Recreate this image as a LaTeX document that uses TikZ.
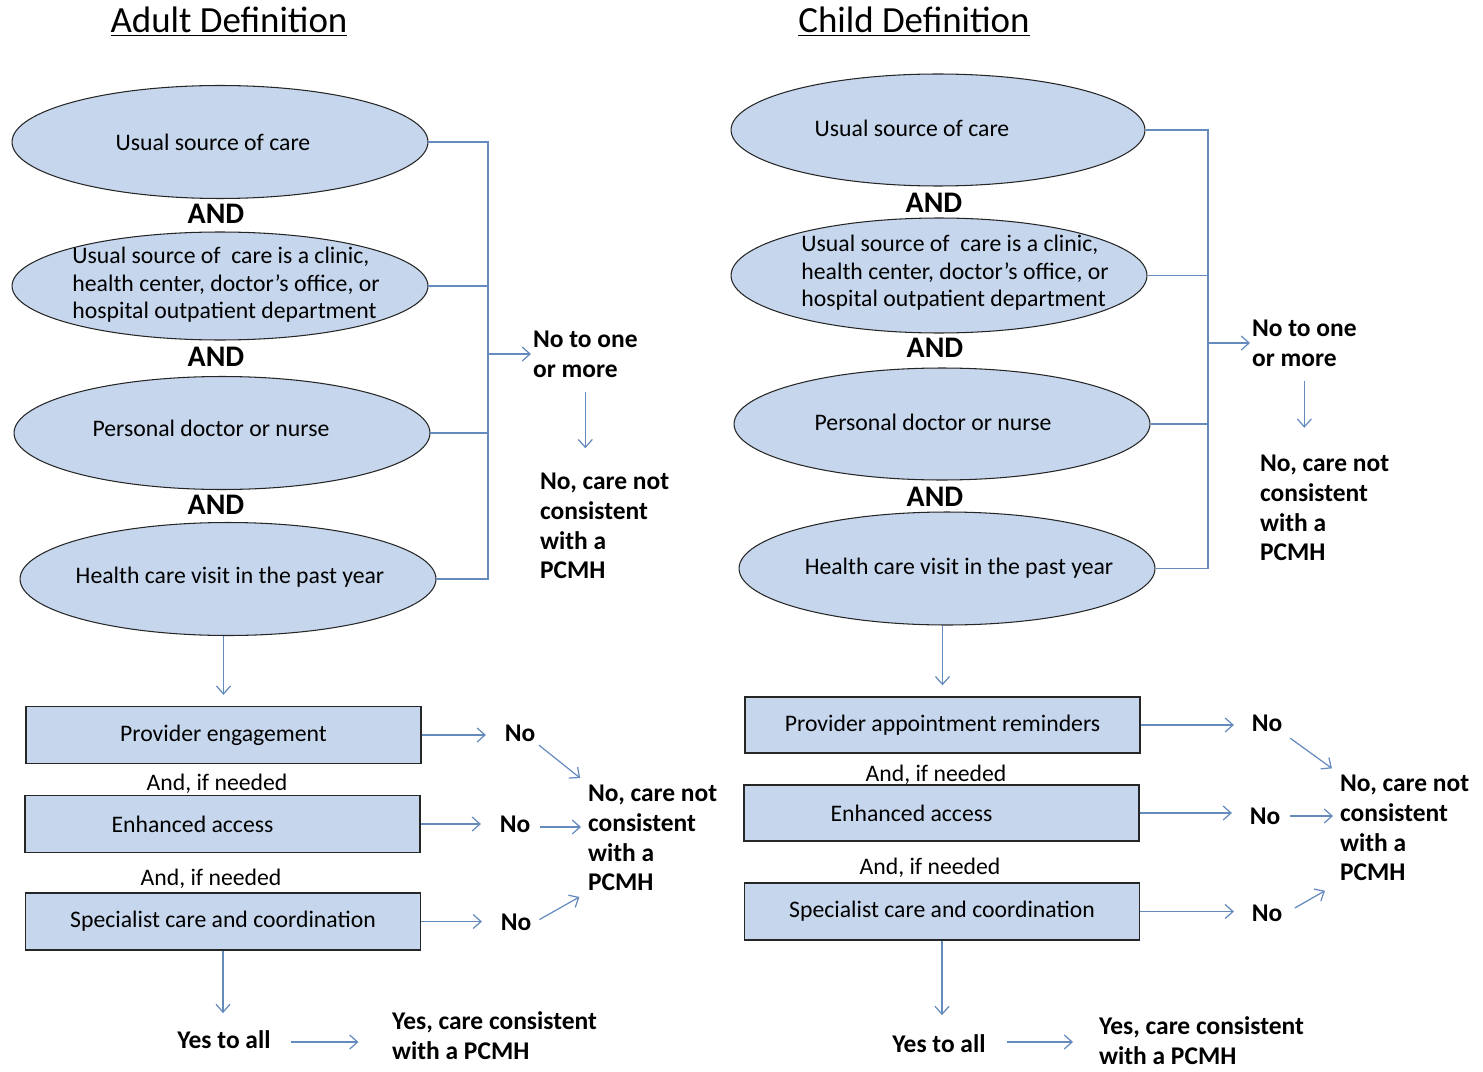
\documentclass[tikz,border=0pt]{standalone}
\usepackage{fontspec}
\setmainfont{Carlito}
\usetikzlibrary{arrows.meta,shapes.geometric}
\definecolor{fillblue}{RGB}{198,215,237}
\definecolor{linkblue}{RGB}{100,138,190}
\begin{document}
\begin{tikzpicture}[x=0.02cm,y=-0.02cm,
  ell/.style={ellipse, draw=black!85, line width=0.6pt, fill=fillblue, minimum width=8.32cm, minimum height=2.26cm, inner sep=0pt},
  box/.style={rectangle, draw=black!85, line width=0.8pt, fill=fillblue, minimum width=7.9cm, minimum height=1.14cm, inner sep=0pt, font=\fontsize{13.5}{16}\selectfont},
  conn/.style={draw=linkblue, line width=0.7pt},
  arr/.style={conn, -{Straight Barb[length=4.5pt,width=8pt]}},
  andlbl/.style={font=\bfseries\fontsize{17}{20}\selectfont, inner sep=1pt},
  cond/.style={font=\fontsize{13.5}{16}\selectfont, inner sep=1pt},
  nolbl/.style={font=\bfseries\fontsize{14.5}{17}\selectfont, inner sep=2pt},
  res/.style={font=\bfseries\fontsize{14.5}{17}\selectfont, align=left, inner sep=1pt, anchor=west},
  ttl/.style={font=\fontsize{21}{24}\selectfont}
]
\useasboundingbox (0,0) rectangle (1483,1071);

% ================= Adult =================
\node[ttl] (tA) at (229,22) {\underline{Adult Definition}};
\node[ell] (a1) at (220,142) {};
\node[ell, minimum height=2.16cm] (a2) at (220,286) {};
\node[ell] (a3) at (222,433) {};
\node[ell] (a4) at (228,579) {};
\node[cond] (a1t) at (213,142) {Usual source of care};
\node[cond, align=left, font=\fontsize{13.5}{15.6}\selectfont] (a2t) at (226,285) {Usual source of\ \ care is a clinic,\\health center, doctor’s office, or\\hospital outpatient department};
\node[cond] (a3t) at (211,428) {Personal doctor or nurse};
\node[cond] (a4t) at (230,577) {Health care visit in the past year};
\node[andlbl] (and1) at (216,214) {AND};
\node[andlbl] (and2) at (216,357) {AND};
\node[andlbl] (and3) at (216,505) {AND};

\coordinate (bL) at (488,0);
\draw[conn] (a1.east) -- (a1.east -| bL) -- (a4.east -| bL) -- (a4.east);
\draw[conn] (a2.east) -- (a2.east -| bL);
\draw[conn] (a3.east) -- (a3.east -| bL);
\node[res] (notoneA) at (531,354) {No to one\\or more};
\draw[arr] (notoneA.west -| bL) -- (notoneA.west);
\node[res] (nocareA1) at (538,526) {No, care not\\consistent\\with a\\PCMH};
\draw[arr, shorten <=0.25cm, shorten >=0.45cm] (notoneA.south) -- (notoneA.south |- nocareA1.north);

\node[box] (ar1) at (223.5,735) {Provider engagement};
\node[box] (ar2) at (222.5,824) {Enhanced access\hspace*{1.2cm}};
\node[box] (ar3) at (223,921.5) {Specialist care and coordination};
\node[cond] (ifA1) at (217,784) {And, if needed};
\node[cond] (ifA2) at (211,879) {And, if needed};
\draw[arr, shorten >=0.22cm] (a4.south -| ar1.north) -- (ar1.north);

\node[nolbl] (noA1) at (520,733) {No};
\node[nolbl] (noA2) at (515,824) {No};
\node[nolbl] (noA3) at (516,922) {No};
\draw[arr, shorten >=0.3cm] (ar1.east) -- (ar1.east -| noA1.west);
\draw[arr, shorten >=0.3cm] (ar2.east) -- (ar2.east -| noA2.west);
\draw[arr, shorten >=0.3cm] (ar3.east) -- (ar3.east -| noA3.west);
\node[res] (nocareA2) at (586,838) {No, care not\\consistent\\with a\\PCMH};
\draw[arr, shorten >=0.15cm] (noA1.south east) -- (nocareA2.north west);
\draw[arr, shorten <=0.12cm, shorten >=0.1cm] ([yshift=-0.06cm]noA2.east) -- ([yshift=-0.06cm]noA2.east -| nocareA2.west);
\draw[arr, shorten <=0.1cm, shorten >=0.15cm] (noA3.east) -- (nocareA2.south west);

\node[nolbl] (yesA) at (224,1040) {Yes to all};
\draw[arr, shorten >=0.28cm] (ar3.south) -- (ar3.south |- yesA.north);
\node[res] (resA) at (390,1036) {Yes, care consistent\\with a PCMH};
\draw[arr, shorten <=0.33cm, shorten >=0.63cm] ([yshift=-0.04cm]yesA.east) -- ([yshift=-0.04cm]yesA.east -| resA.west);

% ================= Child =================
\node[ttl] (tB) at (914,22) {\underline{Child Definition}};
\node[ell, minimum width=8.28cm, minimum height=2.24cm] (b1) at (938,130) {};
\node[ell, minimum height=2.3cm] (b2) at (939,275.5) {};
\node[ell, minimum height=2.24cm] (b3) at (942,424) {};
\node[ell] (b4) at (947,568.5) {};
\node[cond] (b1t) at (912,128) {Usual source of care};
\node[cond, align=left, font=\fontsize{13.5}{15.6}\selectfont] (b2t) at (955,273) {Usual source of\ \ care is a clinic,\\health center, doctor’s office, or\\hospital outpatient department};
\node[cond] (b3t) at (933,422) {Personal doctor or nurse};
\node[cond] (b4t) at (959,568) {Health care visit in the past year};
\node[andlbl] (and4) at (934,203) {AND};
\node[andlbl] (and5) at (935,348) {AND};
\node[andlbl] (and6) at (935,497) {AND};

\coordinate (bR) at (1208,0);
\draw[conn] (b1.east) -- (b1.east -| bR) -- (b4.east -| bR) -- (b4.east);
\draw[conn] (b2.east) -- (b2.east -| bR);
\draw[conn] (b3.east) -- (b3.east -| bR);
\node[res] (notoneB) at (1250,343) {No to one\\or more};
\draw[arr] (notoneB.west -| bR) -- (notoneB.west);
\node[res] (nocareB1) at (1258,508) {No, care not\\consistent\\with a\\PCMH};
\draw[arr, shorten <=0.25cm, shorten >=0.5cm] (notoneB.south) -- (notoneB.south |- nocareB1.north);

\node[box, minimum height=1.12cm] (br1) at (942.5,725) {Provider appointment reminders};
\node[box, minimum height=1.12cm] (br2) at (941.5,813) {Enhanced access\hspace*{1.2cm}};
\node[box] (br3) at (942,911.5) {Specialist care and coordination};
\node[cond] (ifB1) at (936,775) {And, if needed};
\node[cond] (ifB2) at (930,868) {And, if needed};
\draw[arr, shorten >=0.22cm] (b4.south -| br1.north) -- (br1.north);

\node[nolbl] (noB1) at (1267,723) {No};
\node[nolbl] (noB2) at (1265,816) {No};
\node[nolbl] (noB3) at (1267,913) {No};
\draw[arr, shorten >=0.28cm] (br1.east) -- (br1.east -| noB1.west);
\draw[arr, shorten >=0.28cm] (br2.east) -- (br2.east -| noB2.west);
\draw[arr, shorten >=0.28cm] (br3.east) -- (br3.east -| noB3.west);
\node[res] (nocareB2) at (1338,828) {No, care not\\consistent\\with a\\PCMH};
\draw[arr, shorten <=0.1cm, shorten >=0.15cm] (noB1.south east) -- (nocareB2.north west);
\draw[arr, shorten <=0.12cm, shorten >=0.1cm] (noB2.east) -- (noB2.east -| nocareB2.west);
\draw[arr, shorten <=0.2cm, shorten >=0.3cm] (noB3.east) -- (nocareB2.south west);

\node[nolbl] (yesB) at (939,1044) {Yes to all};
\draw[arr, shorten >=0.32cm] (br3.south) -- (br3.south |- yesB.north);
\node[res] (resB) at (1097,1041) {Yes, care consistent\\with a PCMH};
\draw[arr, shorten <=0.36cm, shorten >=0.48cm] ([yshift=0.04cm]yesB.east) -- ([yshift=0.04cm]yesB.east -| resB.west);
\end{tikzpicture}
\end{document}
